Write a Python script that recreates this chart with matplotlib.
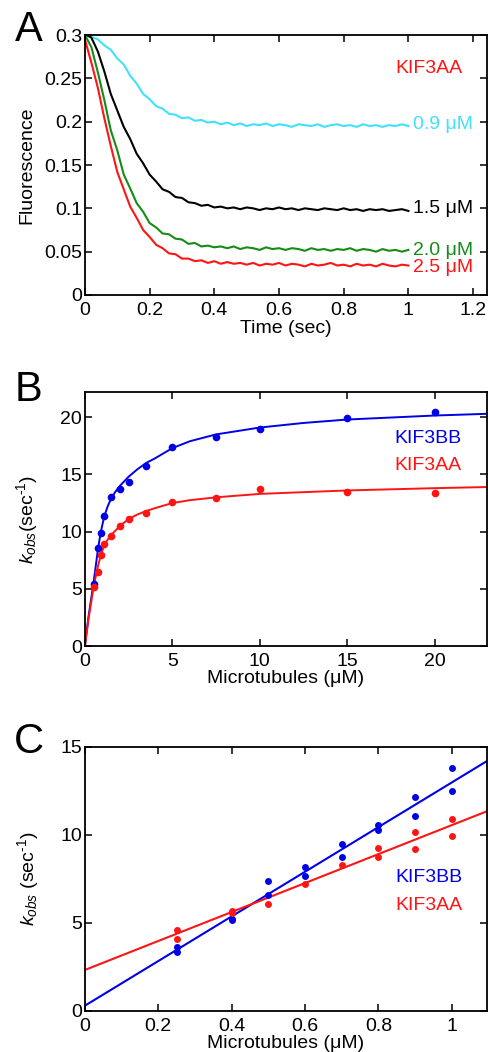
import matplotlib
matplotlib.use("Agg")
import matplotlib.pyplot as plt

# ---------------------------------------------
# fontes
# ---------------------------------------------
plt.rcParams["font.family"] = ["Liberation Sans", "DejaVu Sans"]
plt.rcParams["mathtext.fontset"] = "custom"
plt.rcParams["mathtext.rm"] = "Liberation Sans"
plt.rcParams["mathtext.it"] = "Liberation Sans:italic"
plt.rcParams["font.size"] = 14

# ---------------------------------------------
# dados - painel A (transientes de fluorescencia)
# ---------------------------------------------
tempo = [
    0.00, 0.02, 0.04, 0.06, 0.08, 0.10, 0.12, 0.14, 0.16, 0.18,
    0.20, 0.22, 0.24, 0.26, 0.28, 0.30, 0.32, 0.34, 0.36, 0.38,
    0.40, 0.42, 0.44, 0.46, 0.48, 0.50, 0.52, 0.54, 0.56, 0.58,
    0.60, 0.62, 0.64, 0.66, 0.68, 0.70, 0.72, 0.74, 0.76, 0.78,
    0.80, 0.82, 0.84, 0.86, 0.88, 0.90, 0.92, 0.94, 0.96, 0.98,
    1.00,
]

fl_09 = [
    0.300, 0.298, 0.295, 0.288, 0.283, 0.273, 0.266, 0.253, 0.244, 0.232,
    0.226, 0.218, 0.215, 0.209, 0.208, 0.204, 0.205, 0.201, 0.202, 0.199,
    0.200, 0.197, 0.199, 0.196, 0.198, 0.195, 0.197, 0.196, 0.198, 0.195,
    0.197, 0.196, 0.194, 0.197, 0.196, 0.195, 0.197, 0.194, 0.196, 0.197,
    0.195, 0.196, 0.194, 0.197, 0.195, 0.196, 0.194, 0.196, 0.195, 0.197,
    0.195,
]

fl_15 = [
    0.301, 0.297, 0.281, 0.258, 0.232, 0.213, 0.194, 0.180, 0.163, 0.152,
    0.139, 0.131, 0.122, 0.119, 0.113, 0.112, 0.107, 0.106, 0.103, 0.104,
    0.101, 0.102, 0.100, 0.101, 0.099, 0.101, 0.100, 0.098, 0.100, 0.099,
    0.101, 0.099, 0.100, 0.098, 0.100, 0.099, 0.098, 0.100, 0.099, 0.098,
    0.100, 0.098, 0.099, 0.097, 0.099, 0.098, 0.099, 0.097, 0.098, 0.099,
    0.097,
]

fl_20 = [
    0.300, 0.286, 0.257, 0.225, 0.190, 0.167, 0.139, 0.123, 0.106, 0.096,
    0.083, 0.078, 0.071, 0.070, 0.065, 0.064, 0.059, 0.060, 0.056, 0.057,
    0.055, 0.056, 0.054, 0.056, 0.053, 0.055, 0.054, 0.052, 0.055, 0.053,
    0.054, 0.052, 0.054, 0.053, 0.051, 0.054, 0.052, 0.053, 0.051, 0.053,
    0.052, 0.054, 0.051, 0.053, 0.052, 0.050, 0.053, 0.051, 0.052, 0.050,
    0.052,
]

fl_25 = [
    0.295, 0.268, 0.239, 0.204, 0.172, 0.142, 0.122, 0.102, 0.089, 0.075,
    0.067, 0.058, 0.054, 0.048, 0.047, 0.042, 0.042, 0.039, 0.040, 0.037,
    0.039, 0.036, 0.038, 0.036, 0.037, 0.035, 0.037, 0.034, 0.036, 0.035,
    0.037, 0.034, 0.036, 0.035, 0.033, 0.036, 0.034, 0.035, 0.037, 0.034,
    0.035, 0.033, 0.036, 0.034, 0.035, 0.033, 0.036, 0.034, 0.033, 0.035,
    0.034,
]

rotulos_a = ["0.9 μM", "1.5 μM", "2.0 μM", "2.5 μM"]
y_rotulos_a = [0.197, 0.0994, 0.0518, 0.032]

# ---------------------------------------------
# dados - painel B (kobs vs microtubulos)
# ---------------------------------------------
mt_b = [0.5, 0.75, 0.9, 1.1, 1.5, 2, 2.5, 3.5, 5, 7.5, 10, 15, 20]
kobs_bb = [5.4, 8.6, 9.9, 11.4, 13.0, 13.7, 14.3, 15.7, 17.4, 18.3, 19.0, 19.9, 20.5]
kobs_aa = [5.2, 6.5, 8.0, 8.9, 9.6, 10.5, 11.1, 11.6, 12.6, 12.9, 13.7, 13.5, 13.4]

ajuste_x_b = [0, 0.2, 0.5, 0.75, 0.9, 1.1, 1.3, 1.5, 1.75, 2, 2.5, 3, 3.5,
              4, 5, 6, 7.5, 10, 12.5, 15, 20, 23]
ajuste_bb = [0, 2.5, 5.6, 8.5, 9.9, 11.3, 12.2, 12.9, 13.5, 14.0, 14.8, 15.45,
             16.0, 16.4, 17.3, 17.9, 18.5, 19.1, 19.5, 19.8, 20.15, 20.3]
ajuste_aa = [0, 2.3, 5.2, 7.0, 7.9, 8.8, 9.3, 9.7, 10.1, 10.5, 11.1, 11.5,
             11.8, 12.05, 12.5, 12.75, 13.0, 13.3, 13.45, 13.6, 13.8, 13.9]

# ---------------------------------------------
# dados - painel C (regime linear)
# ---------------------------------------------
mt_c_bb = [0.25, 0.25, 0.4, 0.4, 0.5, 0.5, 0.6, 0.6, 0.7, 0.7, 0.8, 0.8, 0.9, 0.9, 1.0, 1.0]
kc_bb = [3.62, 3.37, 5.17, 5.25, 7.39, 6.59, 8.2, 7.69, 9.49, 8.77, 10.57, 10.28, 12.18, 11.08, 13.79, 12.48]
mt_c_aa = [0.25, 0.25, 0.4, 0.4, 0.5, 0.6, 0.7, 0.8, 0.8, 0.9, 0.9, 1.0, 1.0]
kc_aa = [4.6, 4.09, 5.7, 5.55, 6.08, 7.2, 8.3, 9.28, 8.77, 10.19, 9.19, 10.89, 9.96]

reta_x = [0, 1.1]
reta_bb = [0.3, 14.25]
reta_aa = [2.33, 11.38]

# ---------------------------------------------
# cores
# ---------------------------------------------
ciano = "#40e0ff"
verde = "#178a17"
vermelho = "#ff1414"
azul = "#0000e6"


def estilo(ax):
    ax.tick_params(direction="in", length=5, width=1.1, top=True, right=True,
                   labelsize=14)
    ax.tick_params(axis="x", pad=5)
    ax.tick_params(axis="y", pad=2)
    for s in ax.spines.values():
        s.set_linewidth(1.3)


fig = plt.figure(figsize=(4.88, 10.52), dpi=100)

# =============================================
# PAINEL A
# =============================================
ax1 = fig.add_axes([0.174, 0.7196, 0.824, 0.2471])
ax1.plot(tempo, fl_09, color=ciano, lw=1.5)
ax1.plot(tempo, fl_15, color="black", lw=1.5)
ax1.plot(tempo, fl_20, color=verde, lw=1.5)
ax1.plot(tempo, fl_25, color=vermelho, lw=1.5)

for txt, yy, cc in zip(rotulos_a, y_rotulos_a, [ciano, "black", verde, vermelho]):
    ax1.text(1.015, yy, txt, color=cc, fontsize=14, va="center", ha="left")
ax1.text(0.96, 0.261, "KIF3AA", color=vermelho, fontsize=14, va="center", ha="left")

ax1.set_xlim(0, 1.243)
ax1.set_ylim(0, 0.3)
ax1.set_xticks([0, 0.2, 0.4, 0.6, 0.8, 1.0, 1.2])
ax1.set_xticklabels(["0", "0.2", "0.4", "0.6", "0.8", "1", "1.2"])
ax1.set_yticks([0, 0.05, 0.1, 0.15, 0.2, 0.25, 0.3])
ax1.set_yticklabels(["0", "0.05", "0.1", "0.15", "0.2", "0.25", "0.3"])
ax1.set_xlabel("Time (sec)", fontsize=14)
ax1.set_ylabel("Fluorescence", fontsize=14)
ax1.xaxis.set_label_coords(0.5, -0.096)
ax1.yaxis.set_label_coords(-0.124, 0.5)
estilo(ax1)

# =============================================
# PAINEL B
# =============================================
ax2 = fig.add_axes([0.174, 0.3859, 0.824, 0.2414])
ax2.plot(ajuste_x_b, ajuste_bb, color=azul, lw=1.4)
ax2.plot(ajuste_x_b, ajuste_aa, color=vermelho, lw=1.4)
ax2.plot(mt_b, kobs_bb, "o", color=azul, ms=5.5, mec="none")
ax2.plot(mt_b, kobs_aa, "o", color=vermelho, ms=5.5, mec="none")
ax2.text(17.7, 18.1, "KIF3BB", color=azul, fontsize=14, va="center", ha="left")
ax2.text(17.7, 15.8, "KIF3AA", color=vermelho, fontsize=14, va="center", ha="left")

ax2.set_xlim(0, 23)
ax2.set_ylim(0, 22.2)
ax2.set_xticks([0, 5, 10, 15, 20])
ax2.set_yticks([0, 5, 10, 15, 20])
ax2.set_xlabel("Microtubules (μM)", fontsize=14)
ax2.set_ylabel(r"$k_{obs}$(sec$^{\text{-1}}$)", fontsize=14)
ax2.xaxis.set_label_coords(0.5, -0.094)
ax2.yaxis.set_label_coords(-0.112, 0.5)
estilo(ax2)

# =============================================
# PAINEL C
# =============================================
ax3 = fig.add_axes([0.174, 0.039, 0.824, 0.251])
ax3.plot(reta_x, reta_bb, color=azul, lw=1.5)
ax3.plot(reta_x, reta_aa, color=vermelho, lw=1.5)
ax3.plot(mt_c_bb, kc_bb, "o", color=azul, ms=5, mec="none")
ax3.plot(mt_c_aa, kc_aa, "o", color=vermelho, ms=5, mec="none")
ax3.text(0.845, 7.56, "KIF3BB", color=azul, fontsize=14, va="center", ha="left")
ax3.text(0.845, 6.0, "KIF3AA", color=vermelho, fontsize=14, va="center", ha="left")

ax3.set_xlim(0, 1.096)
ax3.set_ylim(0, 15)
ax3.set_xticks([0, 0.2, 0.4, 0.6, 0.8, 1.0])
ax3.set_xticklabels(["0", "0.2", "0.4", "0.6", "0.8", "1"])
ax3.set_yticks([0, 5, 10, 15])
ax3.set_xlabel("Microtubules (μM)", fontsize=14)
ax3.set_ylabel(r"$k_{obs}$ (sec$^{\text{-1}}$)", fontsize=14)
ax3.xaxis.set_label_coords(0.5, -0.091)
ax3.yaxis.set_label_coords(-0.108, 0.5)
estilo(ax3)

# letras dos paineis
fig.text(29 / 488, 1 - 30 / 1052, "A", fontsize=30, ha="center", va="center")
fig.text(28 / 488, 1 - 390 / 1052, "B", fontsize=30, ha="center", va="center")
fig.text(29 / 488, 1 - 742 / 1052, "C", fontsize=30, ha="center", va="center")

fig.savefig("out.png", dpi=100)
